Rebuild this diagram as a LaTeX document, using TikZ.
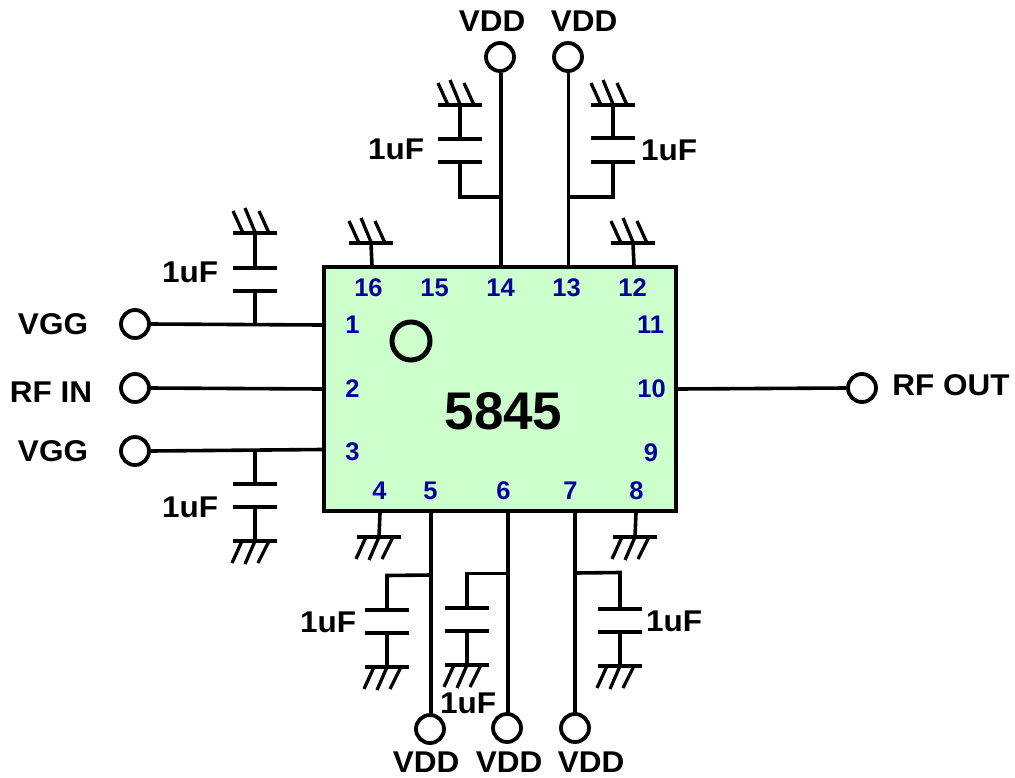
\documentclass[tikz,border=0pt]{standalone}
\usepackage{fontspec}
\setmainfont{Liberation Sans}
\newfontfamily\labfont[FakeStretch=1.05]{Liberation Sans}
\definecolor{icfill}{RGB}{204,255,204}
\definecolor{pinblue}{RGB}{0,0,153}
\tikzset{
  x=1pt,y=-1pt,
  wire/.style={line width=3.6pt,line cap=butt},
  plate/.style={line width=4pt},
  slash/.style={line width=3.3pt},
  term/.style={circle,draw,line width=3.8pt,minimum size=28pt,inner sep=0pt,fill=white},
  lab/.style={font=\labfont\fontsize{30}{30}\selectfont\bfseries,inner sep=0pt},
  pinlab/.style={font=\fontsize{25.5}{25.5}\selectfont\bfseries,text=pinblue,inner sep=0pt},
  pics/gndup/.style={code={
    \draw[plate] (-22,0) -- (22,0);
    \draw[slash] (-22,-22) -- (-12,0) (-10,-25) -- (0,-1) (4,-22) -- (14,0);
  }},
  pics/gnddown/.style={code={
    \draw[plate] (-22,0) -- (22,0);
    \draw[slash] (-23,22) -- (-13,0) (-10,23) -- (0,0) (3,22) -- (14,0);
  }},
}
% name, x, plate 1 y, plate 2 y
\newcommand{\capplates}[4]{%
  \coordinate (#1a) at (#2,#3);
  \coordinate (#1b) at (#2,#4);
  \draw[plate] (#2-22,#3) -- (#2+22,#3) (#2-22,#4) -- (#2+22,#4);
}
\begin{document}
\begin{tikzpicture}
\useasboundingbox (0,0) rectangle (1015,777);
% IC
\node[draw,fill=icfill,line width=4pt,minimum width=352pt,minimum height=244pt,inner sep=0pt] (ic) at (500,389) {};
\node[circle,draw,line width=5pt,minimum size=38pt,inner sep=0pt] (dot) at (411,341) {};
\node[font=\fontsize{53}{53}\selectfont\bfseries,inner sep=0pt] (num) at (503.5,411) {5845};
% pin labels
\foreach \n/\x/\y in {16/368.5/288,15/434.5/288,14/500.5/288,13/566.5/288,12/632.5/288,1/352.5/325,2/352.5/389,3/352.5/452,4/379.5/491,5/430.5/491,6/503.5/491,7/570.5/491,8/636.5/491,9/651/453,10/651.5/389,11/650.5/325}
  \node[pinlab] (p\n) at (\x,\y) {\n};
% terminals
\node[term] (t14) at (500,57) {};
\node[term] (t13) at (568,57) {};
\node[term] (t1) at (135,324) {};
\node[term] (t2) at (135,388) {};
\node[term] (t3) at (135,451) {};
\node[term] (t10) at (862,388) {};
\node[term] (t5) at (430,729) {};
\node[term] (t6) at (507,728) {};
\node[term] (t7) at (575,728) {};
% pin coordinates on the IC edge
\coordinate (e1) at (322,325);
\coordinate (e2) at (322,389);
\coordinate (e3) at (322,449.5);
\coordinate (e10) at (678,389);
\coordinate (e14) at (501,265);
\coordinate (e13) at (568.5,265);
\coordinate (e5) at (431,513);
\coordinate (e6) at (508,513);
\coordinate (e7) at (575,513);
% main wires
\draw[wire] (t1.east) -- (e1);
\draw[wire] (t2.east) -- (e2);
\draw[wire] (t3.east) -- (e3);
\draw[wire] (e10) -- (t10.west);
\draw[wire] (t14.south -| e14) -- (e14);
\draw[wire] (t13.south -| e13) -- (e13);
\draw[wire] (e5) -- (431,716);
\draw[wire] (e6) -- (508,715);
\draw[wire] (e7) -- (575,715);
% grounds on IC
\pic (g16) at (371,243) {gndup};
\coordinate (g16c) at (371,243);
\draw[wire] (g16c) -- (372,266);
\pic (g12) at (633,243) {gndup};
\coordinate (g12c) at (633,243);
\draw[wire] (g12c) -- (634,266);
\pic (g4) at (379,537) {gnddown};
\coordinate (g4c) at (379,537);
\draw[wire] (g4c) -- (380,513);
\pic (g8) at (635,537) {gnddown};
\coordinate (g8c) at (635,537);
\draw[wire] (g8c) -- (636,513);
% C on pin 14
\capplates{c14}{460}{139}{162}
\pic at (460,105) {gndup};
\coordinate (c14g) at (460,105);
\coordinate (c14j) at (501,197);
\draw[wire] (c14g) -- (c14a);
\draw[wire,line join=miter] (c14b) -- (460,197) -- (c14j);
% C on pin 13
\capplates{c13}{613}{138}{162}
\pic at (613,105) {gndup};
\coordinate (c13g) at (613,105);
\coordinate (c13j) at (568.5,197);
\draw[wire] (c13g) -- (c13a);
\draw[wire,line join=miter] (c13b) -- (613,197) -- (c13j);
% C on pin 1
\capplates{c1}{255}{268}{290.5}
\pic at (255,233) {gndup};
\coordinate (c1g) at (255,233);
\coordinate (c1j) at (255,325);
\draw[wire] (c1g) -- (c1a);
\draw[wire] (c1b) -- (c1j);
% C on pin 3
\capplates{c3}{255}{484}{507}
\pic at (255,541) {gnddown};
\coordinate (c3g) at (255,541);
\coordinate (c3j) at (255,449);
\draw[wire] (c3j) -- (c3a);
\draw[wire] (c3b) -- (c3g);
% C on pin 5
\capplates{c5}{387}{610}{633}
\pic at (387,667) {gnddown};
\coordinate (c5g) at (387,667);
\coordinate (c5j) at (431,575);
\draw[wire,line join=miter] (c5j) -- (387,575.5) -- (c5a);
\draw[wire] (c5b) -- (c5g);
% C on pin 6
\capplates{c6}{467}{608}{631}
\pic at (467,665) {gnddown};
\coordinate (c6g) at (467,665);
\coordinate (c6j) at (508,573.5);
\draw[wire,line join=miter] (c6j) -- (467,573.5) -- (c6a);
\draw[wire] (c6b) -- (c6g);
% C on pin 7
\capplates{c7}{620}{609}{632}
\pic at (620,666) {gnddown};
\coordinate (c7g) at (620,666);
\coordinate (c7j) at (575,573);
\draw[wire,line join=miter] (c7j) -- (620,572.5) -- (c7a);
\draw[wire] (c7b) -- (c7g);
% labels
\foreach \i/\x/\y in {a/396/149,b/669/150,c/190/272,d/190/507,e/328/622,f/674/621,g/468/703}
  \node[lab] (uf\i) at (\x,\y) {1uF};
\foreach \i/\x/\y in {a/492/21,b/584/21,c/426/762,d/509/762,e/591/762}
  \node[lab] (vdd\i) at (\x,\y) {VDD};
\node[lab] (vgga) at (53,324) {VGG};
\node[lab] (vggb) at (53,451) {VGG};
\node[lab] (rfin) at (51,392) {RF IN};
\node[lab] (rfout) at (951,385) {RF OUT};
\end{tikzpicture}
\end{document}
